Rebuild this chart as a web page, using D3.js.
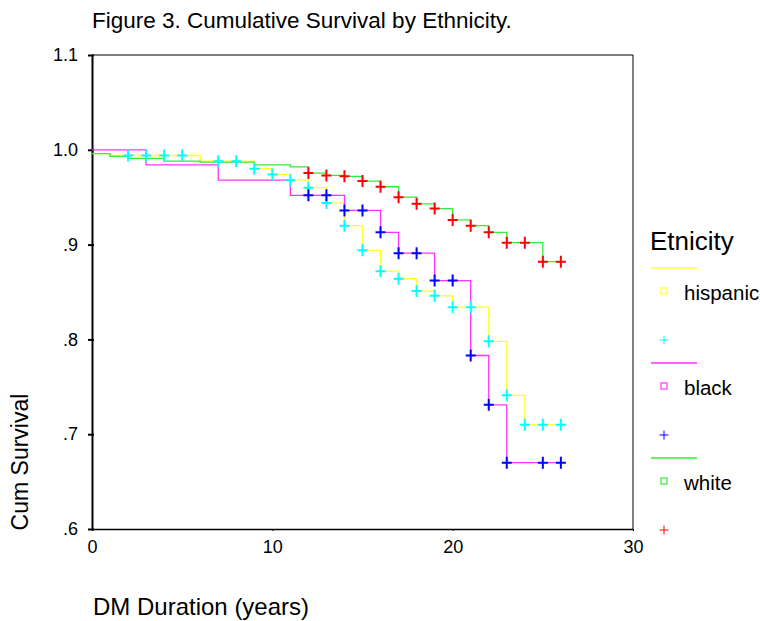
<!DOCTYPE html>
<html><head><meta charset="utf-8">
<script src="https://cdn.jsdelivr.net/npm/d3@7"></script>
<style>body{margin:0;background:#fff} svg{font-family:"Liberation Sans",Arial,sans-serif;display:block}</style>
</head><body><svg id="c" width="760" height="621"></svg>
<script>
// ---- data ----
const groups = ["hispanic", "black", "white"];
const lineColors = ["#ffff33", "#ff33ff", "#33ee33"];
const censorColors = ["#00ffff", "#0000ff", "#ff0000"];

const hispanicTimes = [0, 1, 6, 9, 10, 11, 12, 13, 14, 15, 16, 17, 18, 19, 20, 22, 23, 24];
const hispanicSurv  = [0.996, 0.994, 0.988, 0.980, 0.974, 0.968, 0.960, 0.944, 0.920, 0.894, 0.872, 0.864, 0.851, 0.846, 0.834, 0.798, 0.741, 0.710];
const hispanicCensor = [2, 3, 4, 5, 7, 8, 9, 10, 11, 12, 13, 14, 15, 16, 17, 18, 19, 20, 21, 22, 23, 24, 25, 26];

const blackTimes = [0, 3, 7, 11, 14, 16, 17, 19, 21, 22, 23];
const blackSurv  = [1.000, 0.984, 0.968, 0.952, 0.936, 0.913, 0.891, 0.862, 0.783, 0.731, 0.670];
const blackCensor = [12, 13, 14, 15, 16, 17, 18, 19, 20, 21, 22, 23, 25, 26];

const whiteTimes = [0, 1, 2, 4, 6, 9, 11, 12, 13, 14, 15, 16, 17, 18, 19, 20, 21, 22, 23, 25];
const whiteSurv  = [0.996, 0.993, 0.991, 0.988, 0.987, 0.984, 0.982, 0.9755, 0.973, 0.972, 0.967, 0.961, 0.950, 0.943, 0.938, 0.926, 0.920, 0.913, 0.902, 0.882];
const whiteCensor = [12, 13, 14, 15, 16, 17, 18, 19, 20, 21, 22, 23, 24, 25, 26];

const xTicks = [0, 10, 20, 30];
const yTicks = [0.6, 0.7, 0.8, 0.9, 1.0, 1.1];
const yTickLabels = [".6", ".7", ".8", ".9", "1.0", "1.1"];

const titleText = "Figure 3. Cumulative Survival by Ethnicity.";
const xTitle = "DM Duration (years)";
const yTitle = "Cum Survival";
const legendTitle = "Etnicity";

// ---- chart ----
const svg = d3.select("#c");
const x = d3.scaleLinear().domain([0, 30]).range([92, 633]);
const y = d3.scaleLinear().domain([0.6, 1.1]).range([529, 55]);

const series = [
  {times: hispanicTimes, surv: hispanicSurv, censor: hispanicCensor},
  {times: blackTimes, surv: blackSurv, censor: blackCensor},
  {times: whiteTimes, surv: whiteSurv, censor: whiteCensor}
];

function survAt(s, t) {
  let v = s.surv[0];
  for (let i = 0; i < s.times.length; i++) if (s.times[i] <= t) v = s.surv[i];
  return v;
}

svg.append("text").attr("x", 92).attr("y", 28)
  .attr("font-size", 22.5).attr("fill", "#000").text(titleText);

// frame
svg.append("path")
  .attr("d", `M${x(0)},${y(1.1)}H${x(30)}V${y(0.6)}`)
  .attr("fill", "none").attr("stroke", "#000").attr("stroke-width", 1);

// axes
const yAxis = d3.axisLeft(y).tickValues(yTicks)
  .tickFormat((d, i) => yTickLabels[i]).tickSizeInner(4).tickSizeOuter(0).tickPadding(10);
const gy = svg.append("g").attr("transform", `translate(${x(0)},0)`).call(yAxis);
gy.selectAll("text").attr("font-size", 18).attr("font-family", "Liberation Sans, Arial, sans-serif").attr("fill", "#000");
gy.select(".domain").attr("stroke-width", 2);
gy.selectAll(".tick line").attr("x2", -4).attr("x1", 2).attr("stroke-width", 2);

const xAxis = d3.axisBottom(x).tickValues(xTicks).tickSizeInner(2).tickSizeOuter(0).tickPadding(9);
const gx = svg.append("g").attr("transform", `translate(0,${y(0.6)})`).call(xAxis);
gx.selectAll("text").attr("font-size", 18).attr("font-family", "Liberation Sans, Arial, sans-serif").attr("fill", "#000");
gx.select(".domain").attr("stroke-width", 1.5);

// axis titles
svg.append("text").attr("x", 93).attr("y", 615).attr("font-size", 24).text(xTitle);
svg.append("text").attr("transform", `translate(28,${(396 + 528) / 2}) rotate(-90)`)
  .attr("text-anchor", "middle").attr("font-size", 23).text(yTitle);

// step lines
const line = d3.line().x(d => x(d[0])).y(d => y(d[1])).curve(d3.curveStepAfter);
series.forEach((s, i) => {
  const pts = s.times.map((t, j) => [t, s.surv[j]]);
  const last = d3.max(s.censor);
  pts.push([last, survAt(s, last)]);
  svg.append("path").attr("d", line(pts)).attr("fill", "none")
    .attr("stroke", lineColors[i]).attr("stroke-width", 1.3);
});

// censor marks
series.forEach((s, i) => {
  svg.append("g").selectAll("path").data(s.censor).join("path")
    .attr("transform", t => `translate(${x(t)},${y(survAt(s, t))})`)
    .attr("d", "M-5,0H5M0,-6V6")
    .attr("stroke", censorColors[i]).attr("stroke-width", 2).attr("fill", "none");
});

// legend
const lg = svg.append("g");
lg.append("text").attr("x", 650).attr("y", 250).attr("font-size", 26).text(legendTitle);
groups.forEach((g, i) => {
  const y0 = 268 + i * 95;
  lg.append("line").attr("x1", 651).attr("x2", 697).attr("y1", y0).attr("y2", y0)
    .attr("stroke", lineColors[i]).attr("stroke-width", 1.5);
  lg.append("rect").attr("x", 661).attr("y", y0 + 20).attr("width", 6).attr("height", 6)
    .attr("fill", "none").attr("stroke", lineColors[i]).attr("stroke-width", 1.2);
  lg.append("text").attr("x", 684).attr("y", y0 + 32).attr("font-size", 20.5).text(g);
  lg.append("path").attr("transform", `translate(664,${y0 + 72})`).attr("d", "M-4.5,0H4.5M0,-4.5V4.5")
    .attr("stroke", censorColors[i]).attr("stroke-width", 1);
});
</script></body></html>
